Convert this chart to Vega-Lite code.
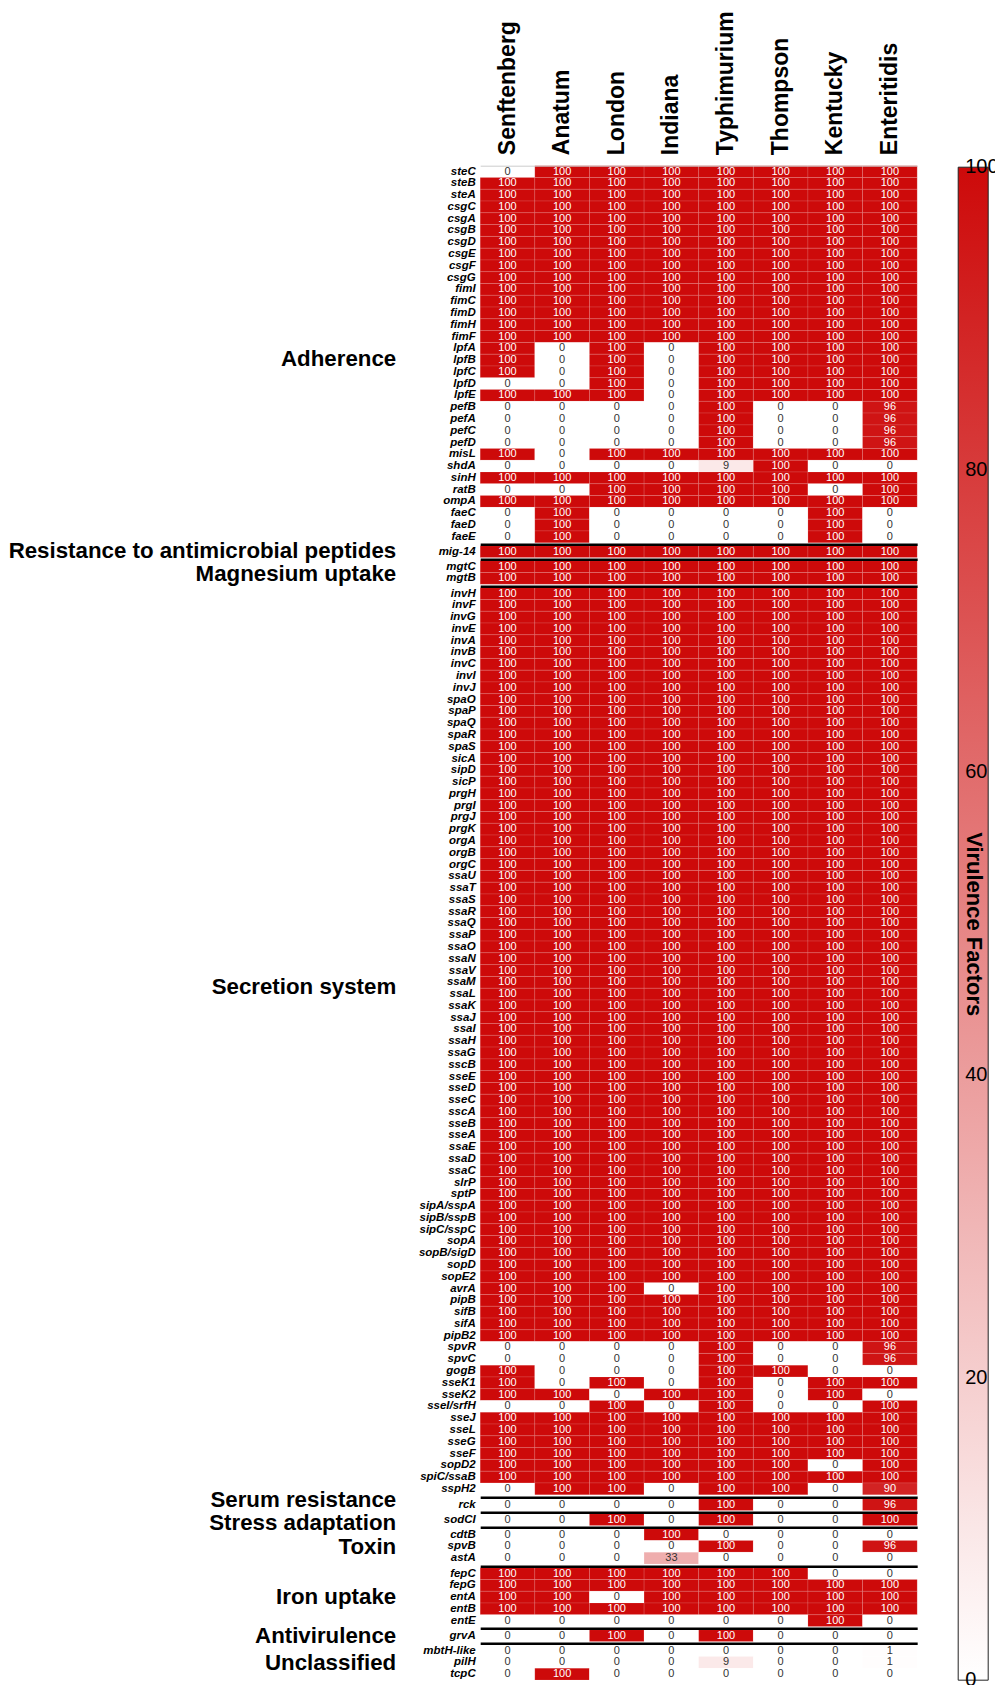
{"$schema":"https://vega.github.io/schema/vega-lite/v6.json","padding":{"left":7.2,"top":10.7,"right":0,"bottom":0},"bounds":"flush","spacing":3.0,
"vconcat":[
{"data":{"name":"Adherence"},"width":437,"height":377,"encoding":{"x":{"field":"strain","type":"nominal","sort":["Senftenberg","Anatum","London","Indiana","Typhimurium","Thompson","Kentucky","Enteritidis"],"scale":{"paddingInner":0,"paddingOuter":0},"axis":{"orient":"top","title":null,"ticks":false,"domain":true,"domainColor":"#cccccc","domainWidth":1,"labelAngle":270,"labelAlign":"left","labelBaseline":"middle","labelFontSize":23,"labelFontWeight":"bold","labelColor":"#000","labelPadding":11,"labelFont":"Liberation Sans"}},"y":{"field":"gene","type":"nominal","sort":null,"scale":{"paddingInner":0,"paddingOuter":0},"axis":{"title":"Adherence","titleY":193}}},
"layer":[{"mark":{"type":"rect","stroke":"#ffffff","strokeOpacity":0.15,"strokeWidth":0.8},"encoding":{"color":{"field":"value","type":"quantitative","scale":{"domain":[0,100],"range":["#ffffff","#cd0a0a"],"interpolate":"rgb"},"legend":{"title":"Virulence Factors","orient":"none","legendX":478,"legendY":1.5,"direction":"vertical","gradientLength":1513,"gradientThickness":30,"values":[0,20,40,60,80,100],"labelOffset":-23,"labelBaseline":"middle","labelFontSize":20,"labelColor":"#000","labelFont":"Liberation Sans","titleOrient":"right","titleAngle":90,"titleFontSize":22,"titleFontWeight":"bold","titleColor":"#000","titleFont":"Liberation Sans","titleAnchor":"middle","titleBaseline":"middle","titleAlign":"center","titlePadding":-24,"titleLimit":600,"gradientStrokeColor":"#222","gradientStrokeWidth":1,"encode":{"labels":{"update":{"baseline":{"value":"middle"}}}}}}}},{"mark":{"type":"text","fontSize":11,"font":"Liberation Sans"},"encoding":{"text":{"field":"value","type":"quantitative"},"color":{"condition":{"test":"datum.value > 50","value":"#ffffff"},"value":"#333333"}}}]},
{"data":{"name":"Resistance"},"width":437,"height":11.78,"encoding":{"x":{"field":"strain","type":"nominal","sort":["Senftenberg","Anatum","London","Indiana","Typhimurium","Thompson","Kentucky","Enteritidis"],"scale":{"paddingInner":0,"paddingOuter":0},"axis":{"orient":"top","title":null,"labels":false,"ticks":false,"domain":true,"domainColor":"#000","domainWidth":2.5,"offset":1.5}},"y":{"field":"gene","type":"nominal","sort":null,"scale":{"paddingInner":0,"paddingOuter":0},"axis":{"title":"Resistance to antimicrobial peptides","titleY":4.5}}},
"layer":[{"mark":{"type":"rect","stroke":"#ffffff","strokeOpacity":0.15,"strokeWidth":0.8},"encoding":{"color":{"field":"value","type":"quantitative","scale":{"domain":[0,100],"range":["#ffffff","#cd0a0a"],"interpolate":"rgb"},"legend":{"title":"Virulence Factors","orient":"none","legendX":478,"legendY":1.5,"direction":"vertical","gradientLength":1513,"gradientThickness":30,"values":[0,20,40,60,80,100],"labelOffset":-23,"labelBaseline":"middle","labelFontSize":20,"labelColor":"#000","labelFont":"Liberation Sans","titleOrient":"right","titleAngle":90,"titleFontSize":22,"titleFontWeight":"bold","titleColor":"#000","titleFont":"Liberation Sans","titleAnchor":"middle","titleBaseline":"middle","titleAlign":"center","titlePadding":-24,"titleLimit":600,"gradientStrokeColor":"#222","gradientStrokeWidth":1,"encode":{"labels":{"update":{"baseline":{"value":"middle"}}}}}}}},{"mark":{"type":"text","fontSize":11,"font":"Liberation Sans"},"encoding":{"text":{"field":"value","type":"quantitative"},"color":{"condition":{"test":"datum.value > 50","value":"#ffffff"},"value":"#333333"}}}]},
{"data":{"name":"Magnesium"},"width":437,"height":23.56,"encoding":{"x":{"field":"strain","type":"nominal","sort":["Senftenberg","Anatum","London","Indiana","Typhimurium","Thompson","Kentucky","Enteritidis"],"scale":{"paddingInner":0,"paddingOuter":0},"axis":{"orient":"top","title":null,"labels":false,"ticks":false,"domain":true,"domainColor":"#000","domainWidth":2.5,"offset":1.5}},"y":{"field":"gene","type":"nominal","sort":null,"scale":{"paddingInner":0,"paddingOuter":0},"axis":{"title":"Magnesium uptake","titleY":13}}},
"layer":[{"mark":{"type":"rect","stroke":"#ffffff","strokeOpacity":0.15,"strokeWidth":0.8},"encoding":{"color":{"field":"value","type":"quantitative","scale":{"domain":[0,100],"range":["#ffffff","#cd0a0a"],"interpolate":"rgb"},"legend":{"title":"Virulence Factors","orient":"none","legendX":478,"legendY":1.5,"direction":"vertical","gradientLength":1513,"gradientThickness":30,"values":[0,20,40,60,80,100],"labelOffset":-23,"labelBaseline":"middle","labelFontSize":20,"labelColor":"#000","labelFont":"Liberation Sans","titleOrient":"right","titleAngle":90,"titleFontSize":22,"titleFontWeight":"bold","titleColor":"#000","titleFont":"Liberation Sans","titleAnchor":"middle","titleBaseline":"middle","titleAlign":"center","titlePadding":-24,"titleLimit":600,"gradientStrokeColor":"#222","gradientStrokeWidth":1,"encode":{"labels":{"update":{"baseline":{"value":"middle"}}}}}}}},{"mark":{"type":"text","fontSize":11,"font":"Liberation Sans"},"encoding":{"text":{"field":"value","type":"quantitative"},"color":{"condition":{"test":"datum.value > 50","value":"#ffffff"},"value":"#333333"}}}]},
{"data":{"name":"Secretion"},"width":437,"height":907.06,"encoding":{"x":{"field":"strain","type":"nominal","sort":["Senftenberg","Anatum","London","Indiana","Typhimurium","Thompson","Kentucky","Enteritidis"],"scale":{"paddingInner":0,"paddingOuter":0},"axis":{"orient":"top","title":null,"labels":false,"ticks":false,"domain":true,"domainColor":"#000","domainWidth":2.5,"offset":1.5}},"y":{"field":"gene","type":"nominal","sort":null,"scale":{"paddingInner":0,"paddingOuter":0},"axis":{"title":"Secretion system","titleY":399}}},
"layer":[{"mark":{"type":"rect","stroke":"#ffffff","strokeOpacity":0.15,"strokeWidth":0.8},"encoding":{"color":{"field":"value","type":"quantitative","scale":{"domain":[0,100],"range":["#ffffff","#cd0a0a"],"interpolate":"rgb"},"legend":{"title":"Virulence Factors","orient":"none","legendX":478,"legendY":1.5,"direction":"vertical","gradientLength":1513,"gradientThickness":30,"values":[0,20,40,60,80,100],"labelOffset":-23,"labelBaseline":"middle","labelFontSize":20,"labelColor":"#000","labelFont":"Liberation Sans","titleOrient":"right","titleAngle":90,"titleFontSize":22,"titleFontWeight":"bold","titleColor":"#000","titleFont":"Liberation Sans","titleAnchor":"middle","titleBaseline":"middle","titleAlign":"center","titlePadding":-24,"titleLimit":600,"gradientStrokeColor":"#222","gradientStrokeWidth":1,"encode":{"labels":{"update":{"baseline":{"value":"middle"}}}}}}}},{"mark":{"type":"text","fontSize":11,"font":"Liberation Sans"},"encoding":{"text":{"field":"value","type":"quantitative"},"color":{"condition":{"test":"datum.value > 50","value":"#ffffff"},"value":"#333333"}}}]},
{"data":{"name":"Serum"},"width":437,"height":11.78,"encoding":{"x":{"field":"strain","type":"nominal","sort":["Senftenberg","Anatum","London","Indiana","Typhimurium","Thompson","Kentucky","Enteritidis"],"scale":{"paddingInner":0,"paddingOuter":0},"axis":{"orient":"top","title":null,"labels":false,"ticks":false,"domain":true,"domainColor":"#000","domainWidth":2.5,"offset":1.5}},"y":{"field":"gene","type":"nominal","sort":null,"scale":{"paddingInner":0,"paddingOuter":0},"axis":{"title":"Serum resistance","titleY":0.5}}},
"layer":[{"mark":{"type":"rect","stroke":"#ffffff","strokeOpacity":0.15,"strokeWidth":0.8},"encoding":{"color":{"field":"value","type":"quantitative","scale":{"domain":[0,100],"range":["#ffffff","#cd0a0a"],"interpolate":"rgb"},"legend":{"title":"Virulence Factors","orient":"none","legendX":478,"legendY":1.5,"direction":"vertical","gradientLength":1513,"gradientThickness":30,"values":[0,20,40,60,80,100],"labelOffset":-23,"labelBaseline":"middle","labelFontSize":20,"labelColor":"#000","labelFont":"Liberation Sans","titleOrient":"right","titleAngle":90,"titleFontSize":22,"titleFontWeight":"bold","titleColor":"#000","titleFont":"Liberation Sans","titleAnchor":"middle","titleBaseline":"middle","titleAlign":"center","titlePadding":-24,"titleLimit":600,"gradientStrokeColor":"#222","gradientStrokeWidth":1,"encode":{"labels":{"update":{"baseline":{"value":"middle"}}}}}}}},{"mark":{"type":"text","fontSize":11,"font":"Liberation Sans"},"encoding":{"text":{"field":"value","type":"quantitative"},"color":{"condition":{"test":"datum.value > 50","value":"#ffffff"},"value":"#333333"}}}]},
{"data":{"name":"Stress"},"width":437,"height":11.78,"encoding":{"x":{"field":"strain","type":"nominal","sort":["Senftenberg","Anatum","London","Indiana","Typhimurium","Thompson","Kentucky","Enteritidis"],"scale":{"paddingInner":0,"paddingOuter":0},"axis":{"orient":"top","title":null,"labels":false,"ticks":false,"domain":true,"domainColor":"#000","domainWidth":2.5,"offset":1.5}},"y":{"field":"gene","type":"nominal","sort":null,"scale":{"paddingInner":0,"paddingOuter":0},"axis":{"title":"Stress adaptation","titleY":9}}},
"layer":[{"mark":{"type":"rect","stroke":"#ffffff","strokeOpacity":0.15,"strokeWidth":0.8},"encoding":{"color":{"field":"value","type":"quantitative","scale":{"domain":[0,100],"range":["#ffffff","#cd0a0a"],"interpolate":"rgb"},"legend":{"title":"Virulence Factors","orient":"none","legendX":478,"legendY":1.5,"direction":"vertical","gradientLength":1513,"gradientThickness":30,"values":[0,20,40,60,80,100],"labelOffset":-23,"labelBaseline":"middle","labelFontSize":20,"labelColor":"#000","labelFont":"Liberation Sans","titleOrient":"right","titleAngle":90,"titleFontSize":22,"titleFontWeight":"bold","titleColor":"#000","titleFont":"Liberation Sans","titleAnchor":"middle","titleBaseline":"middle","titleAlign":"center","titlePadding":-24,"titleLimit":600,"gradientStrokeColor":"#222","gradientStrokeWidth":1,"encode":{"labels":{"update":{"baseline":{"value":"middle"}}}}}}}},{"mark":{"type":"text","fontSize":11,"font":"Liberation Sans"},"encoding":{"text":{"field":"value","type":"quantitative"},"color":{"condition":{"test":"datum.value > 50","value":"#ffffff"},"value":"#333333"}}}]},
{"data":{"name":"Toxin"},"width":437,"height":35.34,"encoding":{"x":{"field":"strain","type":"nominal","sort":["Senftenberg","Anatum","London","Indiana","Typhimurium","Thompson","Kentucky","Enteritidis"],"scale":{"paddingInner":0,"paddingOuter":0},"axis":{"orient":"top","title":null,"labels":false,"ticks":false,"domain":true,"domainColor":"#000","domainWidth":2.5,"offset":1.5}},"y":{"field":"gene","type":"nominal","sort":null,"scale":{"paddingInner":0,"paddingOuter":0},"axis":{"title":"Toxin","titleY":17.7}}},
"layer":[{"mark":{"type":"rect","stroke":"#ffffff","strokeOpacity":0.15,"strokeWidth":0.8},"encoding":{"color":{"field":"value","type":"quantitative","scale":{"domain":[0,100],"range":["#ffffff","#cd0a0a"],"interpolate":"rgb"},"legend":{"title":"Virulence Factors","orient":"none","legendX":478,"legendY":1.5,"direction":"vertical","gradientLength":1513,"gradientThickness":30,"values":[0,20,40,60,80,100],"labelOffset":-23,"labelBaseline":"middle","labelFontSize":20,"labelColor":"#000","labelFont":"Liberation Sans","titleOrient":"right","titleAngle":90,"titleFontSize":22,"titleFontWeight":"bold","titleColor":"#000","titleFont":"Liberation Sans","titleAnchor":"middle","titleBaseline":"middle","titleAlign":"center","titlePadding":-24,"titleLimit":600,"gradientStrokeColor":"#222","gradientStrokeWidth":1,"encode":{"labels":{"update":{"baseline":{"value":"middle"}}}}}}}},{"mark":{"type":"text","fontSize":11,"font":"Liberation Sans"},"encoding":{"text":{"field":"value","type":"quantitative"},"color":{"condition":{"test":"datum.value > 50","value":"#ffffff"},"value":"#333333"}}}]},
{"data":{"name":"Iron"},"width":437,"height":58.9,"encoding":{"x":{"field":"strain","type":"nominal","sort":["Senftenberg","Anatum","London","Indiana","Typhimurium","Thompson","Kentucky","Enteritidis"],"scale":{"paddingInner":0,"paddingOuter":0},"axis":{"orient":"top","title":null,"labels":false,"ticks":false,"domain":true,"domainColor":"#000","domainWidth":2.5,"offset":1.5}},"y":{"field":"gene","type":"nominal","sort":null,"scale":{"paddingInner":0,"paddingOuter":0},"axis":{"title":"Iron uptake","titleY":29}}},
"layer":[{"mark":{"type":"rect","stroke":"#ffffff","strokeOpacity":0.15,"strokeWidth":0.8},"encoding":{"color":{"field":"value","type":"quantitative","scale":{"domain":[0,100],"range":["#ffffff","#cd0a0a"],"interpolate":"rgb"},"legend":{"title":"Virulence Factors","orient":"none","legendX":478,"legendY":1.5,"direction":"vertical","gradientLength":1513,"gradientThickness":30,"values":[0,20,40,60,80,100],"labelOffset":-23,"labelBaseline":"middle","labelFontSize":20,"labelColor":"#000","labelFont":"Liberation Sans","titleOrient":"right","titleAngle":90,"titleFontSize":22,"titleFontWeight":"bold","titleColor":"#000","titleFont":"Liberation Sans","titleAnchor":"middle","titleBaseline":"middle","titleAlign":"center","titlePadding":-24,"titleLimit":600,"gradientStrokeColor":"#222","gradientStrokeWidth":1,"encode":{"labels":{"update":{"baseline":{"value":"middle"}}}}}}}},{"mark":{"type":"text","fontSize":11,"font":"Liberation Sans"},"encoding":{"text":{"field":"value","type":"quantitative"},"color":{"condition":{"test":"datum.value > 50","value":"#ffffff"},"value":"#333333"}}}]},
{"data":{"name":"Antivirulence"},"width":437,"height":11.78,"encoding":{"x":{"field":"strain","type":"nominal","sort":["Senftenberg","Anatum","London","Indiana","Typhimurium","Thompson","Kentucky","Enteritidis"],"scale":{"paddingInner":0,"paddingOuter":0},"axis":{"orient":"top","title":null,"labels":false,"ticks":false,"domain":true,"domainColor":"#000","domainWidth":2.5,"offset":1.5}},"y":{"field":"gene","type":"nominal","sort":null,"scale":{"paddingInner":0,"paddingOuter":0},"axis":{"title":"Antivirulence","titleY":5.8}}},
"layer":[{"mark":{"type":"rect","stroke":"#ffffff","strokeOpacity":0.15,"strokeWidth":0.8},"encoding":{"color":{"field":"value","type":"quantitative","scale":{"domain":[0,100],"range":["#ffffff","#cd0a0a"],"interpolate":"rgb"},"legend":{"title":"Virulence Factors","orient":"none","legendX":478,"legendY":1.5,"direction":"vertical","gradientLength":1513,"gradientThickness":30,"values":[0,20,40,60,80,100],"labelOffset":-23,"labelBaseline":"middle","labelFontSize":20,"labelColor":"#000","labelFont":"Liberation Sans","titleOrient":"right","titleAngle":90,"titleFontSize":22,"titleFontWeight":"bold","titleColor":"#000","titleFont":"Liberation Sans","titleAnchor":"middle","titleBaseline":"middle","titleAlign":"center","titlePadding":-24,"titleLimit":600,"gradientStrokeColor":"#222","gradientStrokeWidth":1,"encode":{"labels":{"update":{"baseline":{"value":"middle"}}}}}}}},{"mark":{"type":"text","fontSize":11,"font":"Liberation Sans"},"encoding":{"text":{"field":"value","type":"quantitative"},"color":{"condition":{"test":"datum.value > 50","value":"#ffffff"},"value":"#333333"}}}]},
{"data":{"name":"Unclassified"},"width":437,"height":35.34,"encoding":{"x":{"field":"strain","type":"nominal","sort":["Senftenberg","Anatum","London","Indiana","Typhimurium","Thompson","Kentucky","Enteritidis"],"scale":{"paddingInner":0,"paddingOuter":0},"axis":{"orient":"top","title":null,"labels":false,"ticks":false,"domain":true,"domainColor":"#000","domainWidth":2.5,"offset":1.5}},"y":{"field":"gene","type":"nominal","sort":null,"scale":{"paddingInner":0,"paddingOuter":0},"axis":{"title":"Unclassified","titleY":17.7}}},
"layer":[{"mark":{"type":"rect","stroke":"#ffffff","strokeOpacity":0.15,"strokeWidth":0.8},"encoding":{"color":{"field":"value","type":"quantitative","scale":{"domain":[0,100],"range":["#ffffff","#cd0a0a"],"interpolate":"rgb"},"legend":{"title":"Virulence Factors","orient":"none","legendX":478,"legendY":1.5,"direction":"vertical","gradientLength":1513,"gradientThickness":30,"values":[0,20,40,60,80,100],"labelOffset":-23,"labelBaseline":"middle","labelFontSize":20,"labelColor":"#000","labelFont":"Liberation Sans","titleOrient":"right","titleAngle":90,"titleFontSize":22,"titleFontWeight":"bold","titleColor":"#000","titleFont":"Liberation Sans","titleAnchor":"middle","titleBaseline":"middle","titleAlign":"center","titlePadding":-24,"titleLimit":600,"gradientStrokeColor":"#222","gradientStrokeWidth":1,"encode":{"labels":{"update":{"baseline":{"value":"middle"}}}}}}}},{"mark":{"type":"text","fontSize":11,"font":"Liberation Sans"},"encoding":{"text":{"field":"value","type":"quantitative"},"color":{"condition":{"test":"datum.value > 50","value":"#ffffff"},"value":"#333333"}}}]}
],
"datasets":{
"Adherence":[
{"gene":"steC","strain":"Senftenberg","value":0},{"gene":"steC","strain":"Anatum","value":100},{"gene":"steC","strain":"London","value":100},{"gene":"steC","strain":"Indiana","value":100},{"gene":"steC","strain":"Typhimurium","value":100},{"gene":"steC","strain":"Thompson","value":100},{"gene":"steC","strain":"Kentucky","value":100},{"gene":"steC","strain":"Enteritidis","value":100},
{"gene":"steB","strain":"Senftenberg","value":100},{"gene":"steB","strain":"Anatum","value":100},{"gene":"steB","strain":"London","value":100},{"gene":"steB","strain":"Indiana","value":100},{"gene":"steB","strain":"Typhimurium","value":100},{"gene":"steB","strain":"Thompson","value":100},{"gene":"steB","strain":"Kentucky","value":100},{"gene":"steB","strain":"Enteritidis","value":100},
{"gene":"steA","strain":"Senftenberg","value":100},{"gene":"steA","strain":"Anatum","value":100},{"gene":"steA","strain":"London","value":100},{"gene":"steA","strain":"Indiana","value":100},{"gene":"steA","strain":"Typhimurium","value":100},{"gene":"steA","strain":"Thompson","value":100},{"gene":"steA","strain":"Kentucky","value":100},{"gene":"steA","strain":"Enteritidis","value":100},
{"gene":"csgC","strain":"Senftenberg","value":100},{"gene":"csgC","strain":"Anatum","value":100},{"gene":"csgC","strain":"London","value":100},{"gene":"csgC","strain":"Indiana","value":100},{"gene":"csgC","strain":"Typhimurium","value":100},{"gene":"csgC","strain":"Thompson","value":100},{"gene":"csgC","strain":"Kentucky","value":100},{"gene":"csgC","strain":"Enteritidis","value":100},
{"gene":"csgA","strain":"Senftenberg","value":100},{"gene":"csgA","strain":"Anatum","value":100},{"gene":"csgA","strain":"London","value":100},{"gene":"csgA","strain":"Indiana","value":100},{"gene":"csgA","strain":"Typhimurium","value":100},{"gene":"csgA","strain":"Thompson","value":100},{"gene":"csgA","strain":"Kentucky","value":100},{"gene":"csgA","strain":"Enteritidis","value":100},
{"gene":"csgB","strain":"Senftenberg","value":100},{"gene":"csgB","strain":"Anatum","value":100},{"gene":"csgB","strain":"London","value":100},{"gene":"csgB","strain":"Indiana","value":100},{"gene":"csgB","strain":"Typhimurium","value":100},{"gene":"csgB","strain":"Thompson","value":100},{"gene":"csgB","strain":"Kentucky","value":100},{"gene":"csgB","strain":"Enteritidis","value":100},
{"gene":"csgD","strain":"Senftenberg","value":100},{"gene":"csgD","strain":"Anatum","value":100},{"gene":"csgD","strain":"London","value":100},{"gene":"csgD","strain":"Indiana","value":100},{"gene":"csgD","strain":"Typhimurium","value":100},{"gene":"csgD","strain":"Thompson","value":100},{"gene":"csgD","strain":"Kentucky","value":100},{"gene":"csgD","strain":"Enteritidis","value":100},
{"gene":"csgE","strain":"Senftenberg","value":100},{"gene":"csgE","strain":"Anatum","value":100},{"gene":"csgE","strain":"London","value":100},{"gene":"csgE","strain":"Indiana","value":100},{"gene":"csgE","strain":"Typhimurium","value":100},{"gene":"csgE","strain":"Thompson","value":100},{"gene":"csgE","strain":"Kentucky","value":100},{"gene":"csgE","strain":"Enteritidis","value":100},
{"gene":"csgF","strain":"Senftenberg","value":100},{"gene":"csgF","strain":"Anatum","value":100},{"gene":"csgF","strain":"London","value":100},{"gene":"csgF","strain":"Indiana","value":100},{"gene":"csgF","strain":"Typhimurium","value":100},{"gene":"csgF","strain":"Thompson","value":100},{"gene":"csgF","strain":"Kentucky","value":100},{"gene":"csgF","strain":"Enteritidis","value":100},
{"gene":"csgG","strain":"Senftenberg","value":100},{"gene":"csgG","strain":"Anatum","value":100},{"gene":"csgG","strain":"London","value":100},{"gene":"csgG","strain":"Indiana","value":100},{"gene":"csgG","strain":"Typhimurium","value":100},{"gene":"csgG","strain":"Thompson","value":100},{"gene":"csgG","strain":"Kentucky","value":100},{"gene":"csgG","strain":"Enteritidis","value":100},
{"gene":"fimI","strain":"Senftenberg","value":100},{"gene":"fimI","strain":"Anatum","value":100},{"gene":"fimI","strain":"London","value":100},{"gene":"fimI","strain":"Indiana","value":100},{"gene":"fimI","strain":"Typhimurium","value":100},{"gene":"fimI","strain":"Thompson","value":100},{"gene":"fimI","strain":"Kentucky","value":100},{"gene":"fimI","strain":"Enteritidis","value":100},
{"gene":"fimC","strain":"Senftenberg","value":100},{"gene":"fimC","strain":"Anatum","value":100},{"gene":"fimC","strain":"London","value":100},{"gene":"fimC","strain":"Indiana","value":100},{"gene":"fimC","strain":"Typhimurium","value":100},{"gene":"fimC","strain":"Thompson","value":100},{"gene":"fimC","strain":"Kentucky","value":100},{"gene":"fimC","strain":"Enteritidis","value":100},
{"gene":"fimD","strain":"Senftenberg","value":100},{"gene":"fimD","strain":"Anatum","value":100},{"gene":"fimD","strain":"London","value":100},{"gene":"fimD","strain":"Indiana","value":100},{"gene":"fimD","strain":"Typhimurium","value":100},{"gene":"fimD","strain":"Thompson","value":100},{"gene":"fimD","strain":"Kentucky","value":100},{"gene":"fimD","strain":"Enteritidis","value":100},
{"gene":"fimH","strain":"Senftenberg","value":100},{"gene":"fimH","strain":"Anatum","value":100},{"gene":"fimH","strain":"London","value":100},{"gene":"fimH","strain":"Indiana","value":100},{"gene":"fimH","strain":"Typhimurium","value":100},{"gene":"fimH","strain":"Thompson","value":100},{"gene":"fimH","strain":"Kentucky","value":100},{"gene":"fimH","strain":"Enteritidis","value":100},
{"gene":"fimF","strain":"Senftenberg","value":100},{"gene":"fimF","strain":"Anatum","value":100},{"gene":"fimF","strain":"London","value":100},{"gene":"fimF","strain":"Indiana","value":100},{"gene":"fimF","strain":"Typhimurium","value":100},{"gene":"fimF","strain":"Thompson","value":100},{"gene":"fimF","strain":"Kentucky","value":100},{"gene":"fimF","strain":"Enteritidis","value":100},
{"gene":"lpfA","strain":"Senftenberg","value":100},{"gene":"lpfA","strain":"Anatum","value":0},{"gene":"lpfA","strain":"London","value":100},{"gene":"lpfA","strain":"Indiana","value":0},{"gene":"lpfA","strain":"Typhimurium","value":100},{"gene":"lpfA","strain":"Thompson","value":100},{"gene":"lpfA","strain":"Kentucky","value":100},{"gene":"lpfA","strain":"Enteritidis","value":100},
{"gene":"lpfB","strain":"Senftenberg","value":100},{"gene":"lpfB","strain":"Anatum","value":0},{"gene":"lpfB","strain":"London","value":100},{"gene":"lpfB","strain":"Indiana","value":0},{"gene":"lpfB","strain":"Typhimurium","value":100},{"gene":"lpfB","strain":"Thompson","value":100},{"gene":"lpfB","strain":"Kentucky","value":100},{"gene":"lpfB","strain":"Enteritidis","value":100},
{"gene":"lpfC","strain":"Senftenberg","value":100},{"gene":"lpfC","strain":"Anatum","value":0},{"gene":"lpfC","strain":"London","value":100},{"gene":"lpfC","strain":"Indiana","value":0},{"gene":"lpfC","strain":"Typhimurium","value":100},{"gene":"lpfC","strain":"Thompson","value":100},{"gene":"lpfC","strain":"Kentucky","value":100},{"gene":"lpfC","strain":"Enteritidis","value":100},
{"gene":"lpfD","strain":"Senftenberg","value":0},{"gene":"lpfD","strain":"Anatum","value":0},{"gene":"lpfD","strain":"London","value":100},{"gene":"lpfD","strain":"Indiana","value":0},{"gene":"lpfD","strain":"Typhimurium","value":100},{"gene":"lpfD","strain":"Thompson","value":100},{"gene":"lpfD","strain":"Kentucky","value":100},{"gene":"lpfD","strain":"Enteritidis","value":100},
{"gene":"lpfE","strain":"Senftenberg","value":100},{"gene":"lpfE","strain":"Anatum","value":100},{"gene":"lpfE","strain":"London","value":100},{"gene":"lpfE","strain":"Indiana","value":0},{"gene":"lpfE","strain":"Typhimurium","value":100},{"gene":"lpfE","strain":"Thompson","value":100},{"gene":"lpfE","strain":"Kentucky","value":100},{"gene":"lpfE","strain":"Enteritidis","value":100},
{"gene":"pefB","strain":"Senftenberg","value":0},{"gene":"pefB","strain":"Anatum","value":0},{"gene":"pefB","strain":"London","value":0},{"gene":"pefB","strain":"Indiana","value":0},{"gene":"pefB","strain":"Typhimurium","value":100},{"gene":"pefB","strain":"Thompson","value":0},{"gene":"pefB","strain":"Kentucky","value":0},{"gene":"pefB","strain":"Enteritidis","value":96},
{"gene":"pefA","strain":"Senftenberg","value":0},{"gene":"pefA","strain":"Anatum","value":0},{"gene":"pefA","strain":"London","value":0},{"gene":"pefA","strain":"Indiana","value":0},{"gene":"pefA","strain":"Typhimurium","value":100},{"gene":"pefA","strain":"Thompson","value":0},{"gene":"pefA","strain":"Kentucky","value":0},{"gene":"pefA","strain":"Enteritidis","value":96},
{"gene":"pefC","strain":"Senftenberg","value":0},{"gene":"pefC","strain":"Anatum","value":0},{"gene":"pefC","strain":"London","value":0},{"gene":"pefC","strain":"Indiana","value":0},{"gene":"pefC","strain":"Typhimurium","value":100},{"gene":"pefC","strain":"Thompson","value":0},{"gene":"pefC","strain":"Kentucky","value":0},{"gene":"pefC","strain":"Enteritidis","value":96},
{"gene":"pefD","strain":"Senftenberg","value":0},{"gene":"pefD","strain":"Anatum","value":0},{"gene":"pefD","strain":"London","value":0},{"gene":"pefD","strain":"Indiana","value":0},{"gene":"pefD","strain":"Typhimurium","value":100},{"gene":"pefD","strain":"Thompson","value":0},{"gene":"pefD","strain":"Kentucky","value":0},{"gene":"pefD","strain":"Enteritidis","value":96},
{"gene":"misL","strain":"Senftenberg","value":100},{"gene":"misL","strain":"Anatum","value":0},{"gene":"misL","strain":"London","value":100},{"gene":"misL","strain":"Indiana","value":100},{"gene":"misL","strain":"Typhimurium","value":100},{"gene":"misL","strain":"Thompson","value":100},{"gene":"misL","strain":"Kentucky","value":100},{"gene":"misL","strain":"Enteritidis","value":100},
{"gene":"shdA","strain":"Senftenberg","value":0},{"gene":"shdA","strain":"Anatum","value":0},{"gene":"shdA","strain":"London","value":0},{"gene":"shdA","strain":"Indiana","value":0},{"gene":"shdA","strain":"Typhimurium","value":9},{"gene":"shdA","strain":"Thompson","value":100},{"gene":"shdA","strain":"Kentucky","value":0},{"gene":"shdA","strain":"Enteritidis","value":0},
{"gene":"sinH","strain":"Senftenberg","value":100},{"gene":"sinH","strain":"Anatum","value":100},{"gene":"sinH","strain":"London","value":100},{"gene":"sinH","strain":"Indiana","value":100},{"gene":"sinH","strain":"Typhimurium","value":100},{"gene":"sinH","strain":"Thompson","value":100},{"gene":"sinH","strain":"Kentucky","value":100},{"gene":"sinH","strain":"Enteritidis","value":100},
{"gene":"ratB","strain":"Senftenberg","value":0},{"gene":"ratB","strain":"Anatum","value":0},{"gene":"ratB","strain":"London","value":100},{"gene":"ratB","strain":"Indiana","value":100},{"gene":"ratB","strain":"Typhimurium","value":100},{"gene":"ratB","strain":"Thompson","value":100},{"gene":"ratB","strain":"Kentucky","value":0},{"gene":"ratB","strain":"Enteritidis","value":100},
{"gene":"ompA","strain":"Senftenberg","value":100},{"gene":"ompA","strain":"Anatum","value":100},{"gene":"ompA","strain":"London","value":100},{"gene":"ompA","strain":"Indiana","value":100},{"gene":"ompA","strain":"Typhimurium","value":100},{"gene":"ompA","strain":"Thompson","value":100},{"gene":"ompA","strain":"Kentucky","value":100},{"gene":"ompA","strain":"Enteritidis","value":100},
{"gene":"faeC","strain":"Senftenberg","value":0},{"gene":"faeC","strain":"Anatum","value":100},{"gene":"faeC","strain":"London","value":0},{"gene":"faeC","strain":"Indiana","value":0},{"gene":"faeC","strain":"Typhimurium","value":0},{"gene":"faeC","strain":"Thompson","value":0},{"gene":"faeC","strain":"Kentucky","value":100},{"gene":"faeC","strain":"Enteritidis","value":0},
{"gene":"faeD","strain":"Senftenberg","value":0},{"gene":"faeD","strain":"Anatum","value":100},{"gene":"faeD","strain":"London","value":0},{"gene":"faeD","strain":"Indiana","value":0},{"gene":"faeD","strain":"Typhimurium","value":0},{"gene":"faeD","strain":"Thompson","value":0},{"gene":"faeD","strain":"Kentucky","value":100},{"gene":"faeD","strain":"Enteritidis","value":0},
{"gene":"faeE","strain":"Senftenberg","value":0},{"gene":"faeE","strain":"Anatum","value":100},{"gene":"faeE","strain":"London","value":0},{"gene":"faeE","strain":"Indiana","value":0},{"gene":"faeE","strain":"Typhimurium","value":0},{"gene":"faeE","strain":"Thompson","value":0},{"gene":"faeE","strain":"Kentucky","value":100},{"gene":"faeE","strain":"Enteritidis","value":0}
],
"Resistance":[
{"gene":"mig-14","strain":"Senftenberg","value":100},{"gene":"mig-14","strain":"Anatum","value":100},{"gene":"mig-14","strain":"London","value":100},{"gene":"mig-14","strain":"Indiana","value":100},{"gene":"mig-14","strain":"Typhimurium","value":100},{"gene":"mig-14","strain":"Thompson","value":100},{"gene":"mig-14","strain":"Kentucky","value":100},{"gene":"mig-14","strain":"Enteritidis","value":100}
],
"Magnesium":[
{"gene":"mgtC","strain":"Senftenberg","value":100},{"gene":"mgtC","strain":"Anatum","value":100},{"gene":"mgtC","strain":"London","value":100},{"gene":"mgtC","strain":"Indiana","value":100},{"gene":"mgtC","strain":"Typhimurium","value":100},{"gene":"mgtC","strain":"Thompson","value":100},{"gene":"mgtC","strain":"Kentucky","value":100},{"gene":"mgtC","strain":"Enteritidis","value":100},
{"gene":"mgtB","strain":"Senftenberg","value":100},{"gene":"mgtB","strain":"Anatum","value":100},{"gene":"mgtB","strain":"London","value":100},{"gene":"mgtB","strain":"Indiana","value":100},{"gene":"mgtB","strain":"Typhimurium","value":100},{"gene":"mgtB","strain":"Thompson","value":100},{"gene":"mgtB","strain":"Kentucky","value":100},{"gene":"mgtB","strain":"Enteritidis","value":100}
],
"Secretion":[
{"gene":"invH","strain":"Senftenberg","value":100},{"gene":"invH","strain":"Anatum","value":100},{"gene":"invH","strain":"London","value":100},{"gene":"invH","strain":"Indiana","value":100},{"gene":"invH","strain":"Typhimurium","value":100},{"gene":"invH","strain":"Thompson","value":100},{"gene":"invH","strain":"Kentucky","value":100},{"gene":"invH","strain":"Enteritidis","value":100},
{"gene":"invF","strain":"Senftenberg","value":100},{"gene":"invF","strain":"Anatum","value":100},{"gene":"invF","strain":"London","value":100},{"gene":"invF","strain":"Indiana","value":100},{"gene":"invF","strain":"Typhimurium","value":100},{"gene":"invF","strain":"Thompson","value":100},{"gene":"invF","strain":"Kentucky","value":100},{"gene":"invF","strain":"Enteritidis","value":100},
{"gene":"invG","strain":"Senftenberg","value":100},{"gene":"invG","strain":"Anatum","value":100},{"gene":"invG","strain":"London","value":100},{"gene":"invG","strain":"Indiana","value":100},{"gene":"invG","strain":"Typhimurium","value":100},{"gene":"invG","strain":"Thompson","value":100},{"gene":"invG","strain":"Kentucky","value":100},{"gene":"invG","strain":"Enteritidis","value":100},
{"gene":"invE","strain":"Senftenberg","value":100},{"gene":"invE","strain":"Anatum","value":100},{"gene":"invE","strain":"London","value":100},{"gene":"invE","strain":"Indiana","value":100},{"gene":"invE","strain":"Typhimurium","value":100},{"gene":"invE","strain":"Thompson","value":100},{"gene":"invE","strain":"Kentucky","value":100},{"gene":"invE","strain":"Enteritidis","value":100},
{"gene":"invA","strain":"Senftenberg","value":100},{"gene":"invA","strain":"Anatum","value":100},{"gene":"invA","strain":"London","value":100},{"gene":"invA","strain":"Indiana","value":100},{"gene":"invA","strain":"Typhimurium","value":100},{"gene":"invA","strain":"Thompson","value":100},{"gene":"invA","strain":"Kentucky","value":100},{"gene":"invA","strain":"Enteritidis","value":100},
{"gene":"invB","strain":"Senftenberg","value":100},{"gene":"invB","strain":"Anatum","value":100},{"gene":"invB","strain":"London","value":100},{"gene":"invB","strain":"Indiana","value":100},{"gene":"invB","strain":"Typhimurium","value":100},{"gene":"invB","strain":"Thompson","value":100},{"gene":"invB","strain":"Kentucky","value":100},{"gene":"invB","strain":"Enteritidis","value":100},
{"gene":"invC","strain":"Senftenberg","value":100},{"gene":"invC","strain":"Anatum","value":100},{"gene":"invC","strain":"London","value":100},{"gene":"invC","strain":"Indiana","value":100},{"gene":"invC","strain":"Typhimurium","value":100},{"gene":"invC","strain":"Thompson","value":100},{"gene":"invC","strain":"Kentucky","value":100},{"gene":"invC","strain":"Enteritidis","value":100},
{"gene":"invI","strain":"Senftenberg","value":100},{"gene":"invI","strain":"Anatum","value":100},{"gene":"invI","strain":"London","value":100},{"gene":"invI","strain":"Indiana","value":100},{"gene":"invI","strain":"Typhimurium","value":100},{"gene":"invI","strain":"Thompson","value":100},{"gene":"invI","strain":"Kentucky","value":100},{"gene":"invI","strain":"Enteritidis","value":100},
{"gene":"invJ","strain":"Senftenberg","value":100},{"gene":"invJ","strain":"Anatum","value":100},{"gene":"invJ","strain":"London","value":100},{"gene":"invJ","strain":"Indiana","value":100},{"gene":"invJ","strain":"Typhimurium","value":100},{"gene":"invJ","strain":"Thompson","value":100},{"gene":"invJ","strain":"Kentucky","value":100},{"gene":"invJ","strain":"Enteritidis","value":100},
{"gene":"spaO","strain":"Senftenberg","value":100},{"gene":"spaO","strain":"Anatum","value":100},{"gene":"spaO","strain":"London","value":100},{"gene":"spaO","strain":"Indiana","value":100},{"gene":"spaO","strain":"Typhimurium","value":100},{"gene":"spaO","strain":"Thompson","value":100},{"gene":"spaO","strain":"Kentucky","value":100},{"gene":"spaO","strain":"Enteritidis","value":100},
{"gene":"spaP","strain":"Senftenberg","value":100},{"gene":"spaP","strain":"Anatum","value":100},{"gene":"spaP","strain":"London","value":100},{"gene":"spaP","strain":"Indiana","value":100},{"gene":"spaP","strain":"Typhimurium","value":100},{"gene":"spaP","strain":"Thompson","value":100},{"gene":"spaP","strain":"Kentucky","value":100},{"gene":"spaP","strain":"Enteritidis","value":100},
{"gene":"spaQ","strain":"Senftenberg","value":100},{"gene":"spaQ","strain":"Anatum","value":100},{"gene":"spaQ","strain":"London","value":100},{"gene":"spaQ","strain":"Indiana","value":100},{"gene":"spaQ","strain":"Typhimurium","value":100},{"gene":"spaQ","strain":"Thompson","value":100},{"gene":"spaQ","strain":"Kentucky","value":100},{"gene":"spaQ","strain":"Enteritidis","value":100},
{"gene":"spaR","strain":"Senftenberg","value":100},{"gene":"spaR","strain":"Anatum","value":100},{"gene":"spaR","strain":"London","value":100},{"gene":"spaR","strain":"Indiana","value":100},{"gene":"spaR","strain":"Typhimurium","value":100},{"gene":"spaR","strain":"Thompson","value":100},{"gene":"spaR","strain":"Kentucky","value":100},{"gene":"spaR","strain":"Enteritidis","value":100},
{"gene":"spaS","strain":"Senftenberg","value":100},{"gene":"spaS","strain":"Anatum","value":100},{"gene":"spaS","strain":"London","value":100},{"gene":"spaS","strain":"Indiana","value":100},{"gene":"spaS","strain":"Typhimurium","value":100},{"gene":"spaS","strain":"Thompson","value":100},{"gene":"spaS","strain":"Kentucky","value":100},{"gene":"spaS","strain":"Enteritidis","value":100},
{"gene":"sicA","strain":"Senftenberg","value":100},{"gene":"sicA","strain":"Anatum","value":100},{"gene":"sicA","strain":"London","value":100},{"gene":"sicA","strain":"Indiana","value":100},{"gene":"sicA","strain":"Typhimurium","value":100},{"gene":"sicA","strain":"Thompson","value":100},{"gene":"sicA","strain":"Kentucky","value":100},{"gene":"sicA","strain":"Enteritidis","value":100},
{"gene":"sipD","strain":"Senftenberg","value":100},{"gene":"sipD","strain":"Anatum","value":100},{"gene":"sipD","strain":"London","value":100},{"gene":"sipD","strain":"Indiana","value":100},{"gene":"sipD","strain":"Typhimurium","value":100},{"gene":"sipD","strain":"Thompson","value":100},{"gene":"sipD","strain":"Kentucky","value":100},{"gene":"sipD","strain":"Enteritidis","value":100},
{"gene":"sicP","strain":"Senftenberg","value":100},{"gene":"sicP","strain":"Anatum","value":100},{"gene":"sicP","strain":"London","value":100},{"gene":"sicP","strain":"Indiana","value":100},{"gene":"sicP","strain":"Typhimurium","value":100},{"gene":"sicP","strain":"Thompson","value":100},{"gene":"sicP","strain":"Kentucky","value":100},{"gene":"sicP","strain":"Enteritidis","value":100},
{"gene":"prgH","strain":"Senftenberg","value":100},{"gene":"prgH","strain":"Anatum","value":100},{"gene":"prgH","strain":"London","value":100},{"gene":"prgH","strain":"Indiana","value":100},{"gene":"prgH","strain":"Typhimurium","value":100},{"gene":"prgH","strain":"Thompson","value":100},{"gene":"prgH","strain":"Kentucky","value":100},{"gene":"prgH","strain":"Enteritidis","value":100},
{"gene":"prgI","strain":"Senftenberg","value":100},{"gene":"prgI","strain":"Anatum","value":100},{"gene":"prgI","strain":"London","value":100},{"gene":"prgI","strain":"Indiana","value":100},{"gene":"prgI","strain":"Typhimurium","value":100},{"gene":"prgI","strain":"Thompson","value":100},{"gene":"prgI","strain":"Kentucky","value":100},{"gene":"prgI","strain":"Enteritidis","value":100},
{"gene":"prgJ","strain":"Senftenberg","value":100},{"gene":"prgJ","strain":"Anatum","value":100},{"gene":"prgJ","strain":"London","value":100},{"gene":"prgJ","strain":"Indiana","value":100},{"gene":"prgJ","strain":"Typhimurium","value":100},{"gene":"prgJ","strain":"Thompson","value":100},{"gene":"prgJ","strain":"Kentucky","value":100},{"gene":"prgJ","strain":"Enteritidis","value":100},
{"gene":"prgK","strain":"Senftenberg","value":100},{"gene":"prgK","strain":"Anatum","value":100},{"gene":"prgK","strain":"London","value":100},{"gene":"prgK","strain":"Indiana","value":100},{"gene":"prgK","strain":"Typhimurium","value":100},{"gene":"prgK","strain":"Thompson","value":100},{"gene":"prgK","strain":"Kentucky","value":100},{"gene":"prgK","strain":"Enteritidis","value":100},
{"gene":"orgA","strain":"Senftenberg","value":100},{"gene":"orgA","strain":"Anatum","value":100},{"gene":"orgA","strain":"London","value":100},{"gene":"orgA","strain":"Indiana","value":100},{"gene":"orgA","strain":"Typhimurium","value":100},{"gene":"orgA","strain":"Thompson","value":100},{"gene":"orgA","strain":"Kentucky","value":100},{"gene":"orgA","strain":"Enteritidis","value":100},
{"gene":"orgB","strain":"Senftenberg","value":100},{"gene":"orgB","strain":"Anatum","value":100},{"gene":"orgB","strain":"London","value":100},{"gene":"orgB","strain":"Indiana","value":100},{"gene":"orgB","strain":"Typhimurium","value":100},{"gene":"orgB","strain":"Thompson","value":100},{"gene":"orgB","strain":"Kentucky","value":100},{"gene":"orgB","strain":"Enteritidis","value":100},
{"gene":"orgC","strain":"Senftenberg","value":100},{"gene":"orgC","strain":"Anatum","value":100},{"gene":"orgC","strain":"London","value":100},{"gene":"orgC","strain":"Indiana","value":100},{"gene":"orgC","strain":"Typhimurium","value":100},{"gene":"orgC","strain":"Thompson","value":100},{"gene":"orgC","strain":"Kentucky","value":100},{"gene":"orgC","strain":"Enteritidis","value":100},
{"gene":"ssaU","strain":"Senftenberg","value":100},{"gene":"ssaU","strain":"Anatum","value":100},{"gene":"ssaU","strain":"London","value":100},{"gene":"ssaU","strain":"Indiana","value":100},{"gene":"ssaU","strain":"Typhimurium","value":100},{"gene":"ssaU","strain":"Thompson","value":100},{"gene":"ssaU","strain":"Kentucky","value":100},{"gene":"ssaU","strain":"Enteritidis","value":100},
{"gene":"ssaT","strain":"Senftenberg","value":100},{"gene":"ssaT","strain":"Anatum","value":100},{"gene":"ssaT","strain":"London","value":100},{"gene":"ssaT","strain":"Indiana","value":100},{"gene":"ssaT","strain":"Typhimurium","value":100},{"gene":"ssaT","strain":"Thompson","value":100},{"gene":"ssaT","strain":"Kentucky","value":100},{"gene":"ssaT","strain":"Enteritidis","value":100},
{"gene":"ssaS","strain":"Senftenberg","value":100},{"gene":"ssaS","strain":"Anatum","value":100},{"gene":"ssaS","strain":"London","value":100},{"gene":"ssaS","strain":"Indiana","value":100},{"gene":"ssaS","strain":"Typhimurium","value":100},{"gene":"ssaS","strain":"Thompson","value":100},{"gene":"ssaS","strain":"Kentucky","value":100},{"gene":"ssaS","strain":"Enteritidis","value":100},
{"gene":"ssaR","strain":"Senftenberg","value":100},{"gene":"ssaR","strain":"Anatum","value":100},{"gene":"ssaR","strain":"London","value":100},{"gene":"ssaR","strain":"Indiana","value":100},{"gene":"ssaR","strain":"Typhimurium","value":100},{"gene":"ssaR","strain":"Thompson","value":100},{"gene":"ssaR","strain":"Kentucky","value":100},{"gene":"ssaR","strain":"Enteritidis","value":100},
{"gene":"ssaQ","strain":"Senftenberg","value":100},{"gene":"ssaQ","strain":"Anatum","value":100},{"gene":"ssaQ","strain":"London","value":100},{"gene":"ssaQ","strain":"Indiana","value":100},{"gene":"ssaQ","strain":"Typhimurium","value":100},{"gene":"ssaQ","strain":"Thompson","value":100},{"gene":"ssaQ","strain":"Kentucky","value":100},{"gene":"ssaQ","strain":"Enteritidis","value":100},
{"gene":"ssaP","strain":"Senftenberg","value":100},{"gene":"ssaP","strain":"Anatum","value":100},{"gene":"ssaP","strain":"London","value":100},{"gene":"ssaP","strain":"Indiana","value":100},{"gene":"ssaP","strain":"Typhimurium","value":100},{"gene":"ssaP","strain":"Thompson","value":100},{"gene":"ssaP","strain":"Kentucky","value":100},{"gene":"ssaP","strain":"Enteritidis","value":100},
{"gene":"ssaO","strain":"Senftenberg","value":100},{"gene":"ssaO","strain":"Anatum","value":100},{"gene":"ssaO","strain":"London","value":100},{"gene":"ssaO","strain":"Indiana","value":100},{"gene":"ssaO","strain":"Typhimurium","value":100},{"gene":"ssaO","strain":"Thompson","value":100},{"gene":"ssaO","strain":"Kentucky","value":100},{"gene":"ssaO","strain":"Enteritidis","value":100},
{"gene":"ssaN","strain":"Senftenberg","value":100},{"gene":"ssaN","strain":"Anatum","value":100},{"gene":"ssaN","strain":"London","value":100},{"gene":"ssaN","strain":"Indiana","value":100},{"gene":"ssaN","strain":"Typhimurium","value":100},{"gene":"ssaN","strain":"Thompson","value":100},{"gene":"ssaN","strain":"Kentucky","value":100},{"gene":"ssaN","strain":"Enteritidis","value":100},
{"gene":"ssaV","strain":"Senftenberg","value":100},{"gene":"ssaV","strain":"Anatum","value":100},{"gene":"ssaV","strain":"London","value":100},{"gene":"ssaV","strain":"Indiana","value":100},{"gene":"ssaV","strain":"Typhimurium","value":100},{"gene":"ssaV","strain":"Thompson","value":100},{"gene":"ssaV","strain":"Kentucky","value":100},{"gene":"ssaV","strain":"Enteritidis","value":100},
{"gene":"ssaM","strain":"Senftenberg","value":100},{"gene":"ssaM","strain":"Anatum","value":100},{"gene":"ssaM","strain":"London","value":100},{"gene":"ssaM","strain":"Indiana","value":100},{"gene":"ssaM","strain":"Typhimurium","value":100},{"gene":"ssaM","strain":"Thompson","value":100},{"gene":"ssaM","strain":"Kentucky","value":100},{"gene":"ssaM","strain":"Enteritidis","value":100},
{"gene":"ssaL","strain":"Senftenberg","value":100},{"gene":"ssaL","strain":"Anatum","value":100},{"gene":"ssaL","strain":"London","value":100},{"gene":"ssaL","strain":"Indiana","value":100},{"gene":"ssaL","strain":"Typhimurium","value":100},{"gene":"ssaL","strain":"Thompson","value":100},{"gene":"ssaL","strain":"Kentucky","value":100},{"gene":"ssaL","strain":"Enteritidis","value":100},
{"gene":"ssaK","strain":"Senftenberg","value":100},{"gene":"ssaK","strain":"Anatum","value":100},{"gene":"ssaK","strain":"London","value":100},{"gene":"ssaK","strain":"Indiana","value":100},{"gene":"ssaK","strain":"Typhimurium","value":100},{"gene":"ssaK","strain":"Thompson","value":100},{"gene":"ssaK","strain":"Kentucky","value":100},{"gene":"ssaK","strain":"Enteritidis","value":100},
{"gene":"ssaJ","strain":"Senftenberg","value":100},{"gene":"ssaJ","strain":"Anatum","value":100},{"gene":"ssaJ","strain":"London","value":100},{"gene":"ssaJ","strain":"Indiana","value":100},{"gene":"ssaJ","strain":"Typhimurium","value":100},{"gene":"ssaJ","strain":"Thompson","value":100},{"gene":"ssaJ","strain":"Kentucky","value":100},{"gene":"ssaJ","strain":"Enteritidis","value":100},
{"gene":"ssaI","strain":"Senftenberg","value":100},{"gene":"ssaI","strain":"Anatum","value":100},{"gene":"ssaI","strain":"London","value":100},{"gene":"ssaI","strain":"Indiana","value":100},{"gene":"ssaI","strain":"Typhimurium","value":100},{"gene":"ssaI","strain":"Thompson","value":100},{"gene":"ssaI","strain":"Kentucky","value":100},{"gene":"ssaI","strain":"Enteritidis","value":100},
{"gene":"ssaH","strain":"Senftenberg","value":100},{"gene":"ssaH","strain":"Anatum","value":100},{"gene":"ssaH","strain":"London","value":100},{"gene":"ssaH","strain":"Indiana","value":100},{"gene":"ssaH","strain":"Typhimurium","value":100},{"gene":"ssaH","strain":"Thompson","value":100},{"gene":"ssaH","strain":"Kentucky","value":100},{"gene":"ssaH","strain":"Enteritidis","value":100},
{"gene":"ssaG","strain":"Senftenberg","value":100},{"gene":"ssaG","strain":"Anatum","value":100},{"gene":"ssaG","strain":"London","value":100},{"gene":"ssaG","strain":"Indiana","value":100},{"gene":"ssaG","strain":"Typhimurium","value":100},{"gene":"ssaG","strain":"Thompson","value":100},{"gene":"ssaG","strain":"Kentucky","value":100},{"gene":"ssaG","strain":"Enteritidis","value":100},
{"gene":"sscB","strain":"Senftenberg","value":100},{"gene":"sscB","strain":"Anatum","value":100},{"gene":"sscB","strain":"London","value":100},{"gene":"sscB","strain":"Indiana","value":100},{"gene":"sscB","strain":"Typhimurium","value":100},{"gene":"sscB","strain":"Thompson","value":100},{"gene":"sscB","strain":"Kentucky","value":100},{"gene":"sscB","strain":"Enteritidis","value":100},
{"gene":"sseE","strain":"Senftenberg","value":100},{"gene":"sseE","strain":"Anatum","value":100},{"gene":"sseE","strain":"London","value":100},{"gene":"sseE","strain":"Indiana","value":100},{"gene":"sseE","strain":"Typhimurium","value":100},{"gene":"sseE","strain":"Thompson","value":100},{"gene":"sseE","strain":"Kentucky","value":100},{"gene":"sseE","strain":"Enteritidis","value":100},
{"gene":"sseD","strain":"Senftenberg","value":100},{"gene":"sseD","strain":"Anatum","value":100},{"gene":"sseD","strain":"London","value":100},{"gene":"sseD","strain":"Indiana","value":100},{"gene":"sseD","strain":"Typhimurium","value":100},{"gene":"sseD","strain":"Thompson","value":100},{"gene":"sseD","strain":"Kentucky","value":100},{"gene":"sseD","strain":"Enteritidis","value":100},
{"gene":"sseC","strain":"Senftenberg","value":100},{"gene":"sseC","strain":"Anatum","value":100},{"gene":"sseC","strain":"London","value":100},{"gene":"sseC","strain":"Indiana","value":100},{"gene":"sseC","strain":"Typhimurium","value":100},{"gene":"sseC","strain":"Thompson","value":100},{"gene":"sseC","strain":"Kentucky","value":100},{"gene":"sseC","strain":"Enteritidis","value":100},
{"gene":"sscA","strain":"Senftenberg","value":100},{"gene":"sscA","strain":"Anatum","value":100},{"gene":"sscA","strain":"London","value":100},{"gene":"sscA","strain":"Indiana","value":100},{"gene":"sscA","strain":"Typhimurium","value":100},{"gene":"sscA","strain":"Thompson","value":100},{"gene":"sscA","strain":"Kentucky","value":100},{"gene":"sscA","strain":"Enteritidis","value":100},
{"gene":"sseB","strain":"Senftenberg","value":100},{"gene":"sseB","strain":"Anatum","value":100},{"gene":"sseB","strain":"London","value":100},{"gene":"sseB","strain":"Indiana","value":100},{"gene":"sseB","strain":"Typhimurium","value":100},{"gene":"sseB","strain":"Thompson","value":100},{"gene":"sseB","strain":"Kentucky","value":100},{"gene":"sseB","strain":"Enteritidis","value":100},
{"gene":"sseA","strain":"Senftenberg","value":100},{"gene":"sseA","strain":"Anatum","value":100},{"gene":"sseA","strain":"London","value":100},{"gene":"sseA","strain":"Indiana","value":100},{"gene":"sseA","strain":"Typhimurium","value":100},{"gene":"sseA","strain":"Thompson","value":100},{"gene":"sseA","strain":"Kentucky","value":100},{"gene":"sseA","strain":"Enteritidis","value":100},
{"gene":"ssaE","strain":"Senftenberg","value":100},{"gene":"ssaE","strain":"Anatum","value":100},{"gene":"ssaE","strain":"London","value":100},{"gene":"ssaE","strain":"Indiana","value":100},{"gene":"ssaE","strain":"Typhimurium","value":100},{"gene":"ssaE","strain":"Thompson","value":100},{"gene":"ssaE","strain":"Kentucky","value":100},{"gene":"ssaE","strain":"Enteritidis","value":100},
{"gene":"ssaD","strain":"Senftenberg","value":100},{"gene":"ssaD","strain":"Anatum","value":100},{"gene":"ssaD","strain":"London","value":100},{"gene":"ssaD","strain":"Indiana","value":100},{"gene":"ssaD","strain":"Typhimurium","value":100},{"gene":"ssaD","strain":"Thompson","value":100},{"gene":"ssaD","strain":"Kentucky","value":100},{"gene":"ssaD","strain":"Enteritidis","value":100},
{"gene":"ssaC","strain":"Senftenberg","value":100},{"gene":"ssaC","strain":"Anatum","value":100},{"gene":"ssaC","strain":"London","value":100},{"gene":"ssaC","strain":"Indiana","value":100},{"gene":"ssaC","strain":"Typhimurium","value":100},{"gene":"ssaC","strain":"Thompson","value":100},{"gene":"ssaC","strain":"Kentucky","value":100},{"gene":"ssaC","strain":"Enteritidis","value":100},
{"gene":"slrP","strain":"Senftenberg","value":100},{"gene":"slrP","strain":"Anatum","value":100},{"gene":"slrP","strain":"London","value":100},{"gene":"slrP","strain":"Indiana","value":100},{"gene":"slrP","strain":"Typhimurium","value":100},{"gene":"slrP","strain":"Thompson","value":100},{"gene":"slrP","strain":"Kentucky","value":100},{"gene":"slrP","strain":"Enteritidis","value":100},
{"gene":"sptP","strain":"Senftenberg","value":100},{"gene":"sptP","strain":"Anatum","value":100},{"gene":"sptP","strain":"London","value":100},{"gene":"sptP","strain":"Indiana","value":100},{"gene":"sptP","strain":"Typhimurium","value":100},{"gene":"sptP","strain":"Thompson","value":100},{"gene":"sptP","strain":"Kentucky","value":100},{"gene":"sptP","strain":"Enteritidis","value":100},
{"gene":"sipA/sspA","strain":"Senftenberg","value":100},{"gene":"sipA/sspA","strain":"Anatum","value":100},{"gene":"sipA/sspA","strain":"London","value":100},{"gene":"sipA/sspA","strain":"Indiana","value":100},{"gene":"sipA/sspA","strain":"Typhimurium","value":100},{"gene":"sipA/sspA","strain":"Thompson","value":100},{"gene":"sipA/sspA","strain":"Kentucky","value":100},{"gene":"sipA/sspA","strain":"Enteritidis","value":100},
{"gene":"sipB/sspB","strain":"Senftenberg","value":100},{"gene":"sipB/sspB","strain":"Anatum","value":100},{"gene":"sipB/sspB","strain":"London","value":100},{"gene":"sipB/sspB","strain":"Indiana","value":100},{"gene":"sipB/sspB","strain":"Typhimurium","value":100},{"gene":"sipB/sspB","strain":"Thompson","value":100},{"gene":"sipB/sspB","strain":"Kentucky","value":100},{"gene":"sipB/sspB","strain":"Enteritidis","value":100},
{"gene":"sipC/sspC","strain":"Senftenberg","value":100},{"gene":"sipC/sspC","strain":"Anatum","value":100},{"gene":"sipC/sspC","strain":"London","value":100},{"gene":"sipC/sspC","strain":"Indiana","value":100},{"gene":"sipC/sspC","strain":"Typhimurium","value":100},{"gene":"sipC/sspC","strain":"Thompson","value":100},{"gene":"sipC/sspC","strain":"Kentucky","value":100},{"gene":"sipC/sspC","strain":"Enteritidis","value":100},
{"gene":"sopA","strain":"Senftenberg","value":100},{"gene":"sopA","strain":"Anatum","value":100},{"gene":"sopA","strain":"London","value":100},{"gene":"sopA","strain":"Indiana","value":100},{"gene":"sopA","strain":"Typhimurium","value":100},{"gene":"sopA","strain":"Thompson","value":100},{"gene":"sopA","strain":"Kentucky","value":100},{"gene":"sopA","strain":"Enteritidis","value":100},
{"gene":"sopB/sigD","strain":"Senftenberg","value":100},{"gene":"sopB/sigD","strain":"Anatum","value":100},{"gene":"sopB/sigD","strain":"London","value":100},{"gene":"sopB/sigD","strain":"Indiana","value":100},{"gene":"sopB/sigD","strain":"Typhimurium","value":100},{"gene":"sopB/sigD","strain":"Thompson","value":100},{"gene":"sopB/sigD","strain":"Kentucky","value":100},{"gene":"sopB/sigD","strain":"Enteritidis","value":100},
{"gene":"sopD","strain":"Senftenberg","value":100},{"gene":"sopD","strain":"Anatum","value":100},{"gene":"sopD","strain":"London","value":100},{"gene":"sopD","strain":"Indiana","value":100},{"gene":"sopD","strain":"Typhimurium","value":100},{"gene":"sopD","strain":"Thompson","value":100},{"gene":"sopD","strain":"Kentucky","value":100},{"gene":"sopD","strain":"Enteritidis","value":100},
{"gene":"sopE2","strain":"Senftenberg","value":100},{"gene":"sopE2","strain":"Anatum","value":100},{"gene":"sopE2","strain":"London","value":100},{"gene":"sopE2","strain":"Indiana","value":100},{"gene":"sopE2","strain":"Typhimurium","value":100},{"gene":"sopE2","strain":"Thompson","value":100},{"gene":"sopE2","strain":"Kentucky","value":100},{"gene":"sopE2","strain":"Enteritidis","value":100},
{"gene":"avrA","strain":"Senftenberg","value":100},{"gene":"avrA","strain":"Anatum","value":100},{"gene":"avrA","strain":"London","value":100},{"gene":"avrA","strain":"Indiana","value":0},{"gene":"avrA","strain":"Typhimurium","value":100},{"gene":"avrA","strain":"Thompson","value":100},{"gene":"avrA","strain":"Kentucky","value":100},{"gene":"avrA","strain":"Enteritidis","value":100},
{"gene":"pipB","strain":"Senftenberg","value":100},{"gene":"pipB","strain":"Anatum","value":100},{"gene":"pipB","strain":"London","value":100},{"gene":"pipB","strain":"Indiana","value":100},{"gene":"pipB","strain":"Typhimurium","value":100},{"gene":"pipB","strain":"Thompson","value":100},{"gene":"pipB","strain":"Kentucky","value":100},{"gene":"pipB","strain":"Enteritidis","value":100},
{"gene":"sifB","strain":"Senftenberg","value":100},{"gene":"sifB","strain":"Anatum","value":100},{"gene":"sifB","strain":"London","value":100},{"gene":"sifB","strain":"Indiana","value":100},{"gene":"sifB","strain":"Typhimurium","value":100},{"gene":"sifB","strain":"Thompson","value":100},{"gene":"sifB","strain":"Kentucky","value":100},{"gene":"sifB","strain":"Enteritidis","value":100},
{"gene":"sifA","strain":"Senftenberg","value":100},{"gene":"sifA","strain":"Anatum","value":100},{"gene":"sifA","strain":"London","value":100},{"gene":"sifA","strain":"Indiana","value":100},{"gene":"sifA","strain":"Typhimurium","value":100},{"gene":"sifA","strain":"Thompson","value":100},{"gene":"sifA","strain":"Kentucky","value":100},{"gene":"sifA","strain":"Enteritidis","value":100},
{"gene":"pipB2","strain":"Senftenberg","value":100},{"gene":"pipB2","strain":"Anatum","value":100},{"gene":"pipB2","strain":"London","value":100},{"gene":"pipB2","strain":"Indiana","value":100},{"gene":"pipB2","strain":"Typhimurium","value":100},{"gene":"pipB2","strain":"Thompson","value":100},{"gene":"pipB2","strain":"Kentucky","value":100},{"gene":"pipB2","strain":"Enteritidis","value":100},
{"gene":"spvR","strain":"Senftenberg","value":0},{"gene":"spvR","strain":"Anatum","value":0},{"gene":"spvR","strain":"London","value":0},{"gene":"spvR","strain":"Indiana","value":0},{"gene":"spvR","strain":"Typhimurium","value":100},{"gene":"spvR","strain":"Thompson","value":0},{"gene":"spvR","strain":"Kentucky","value":0},{"gene":"spvR","strain":"Enteritidis","value":96},
{"gene":"spvC","strain":"Senftenberg","value":0},{"gene":"spvC","strain":"Anatum","value":0},{"gene":"spvC","strain":"London","value":0},{"gene":"spvC","strain":"Indiana","value":0},{"gene":"spvC","strain":"Typhimurium","value":100},{"gene":"spvC","strain":"Thompson","value":0},{"gene":"spvC","strain":"Kentucky","value":0},{"gene":"spvC","strain":"Enteritidis","value":96},
{"gene":"gogB","strain":"Senftenberg","value":100},{"gene":"gogB","strain":"Anatum","value":0},{"gene":"gogB","strain":"London","value":0},{"gene":"gogB","strain":"Indiana","value":0},{"gene":"gogB","strain":"Typhimurium","value":100},{"gene":"gogB","strain":"Thompson","value":100},{"gene":"gogB","strain":"Kentucky","value":0},{"gene":"gogB","strain":"Enteritidis","value":0},
{"gene":"sseK1","strain":"Senftenberg","value":100},{"gene":"sseK1","strain":"Anatum","value":0},{"gene":"sseK1","strain":"London","value":100},{"gene":"sseK1","strain":"Indiana","value":0},{"gene":"sseK1","strain":"Typhimurium","value":100},{"gene":"sseK1","strain":"Thompson","value":0},{"gene":"sseK1","strain":"Kentucky","value":100},{"gene":"sseK1","strain":"Enteritidis","value":100},
{"gene":"sseK2","strain":"Senftenberg","value":100},{"gene":"sseK2","strain":"Anatum","value":100},{"gene":"sseK2","strain":"London","value":0},{"gene":"sseK2","strain":"Indiana","value":100},{"gene":"sseK2","strain":"Typhimurium","value":100},{"gene":"sseK2","strain":"Thompson","value":0},{"gene":"sseK2","strain":"Kentucky","value":100},{"gene":"sseK2","strain":"Enteritidis","value":0},
{"gene":"sseI/srfH","strain":"Senftenberg","value":0},{"gene":"sseI/srfH","strain":"Anatum","value":0},{"gene":"sseI/srfH","strain":"London","value":100},{"gene":"sseI/srfH","strain":"Indiana","value":0},{"gene":"sseI/srfH","strain":"Typhimurium","value":100},{"gene":"sseI/srfH","strain":"Thompson","value":0},{"gene":"sseI/srfH","strain":"Kentucky","value":0},{"gene":"sseI/srfH","strain":"Enteritidis","value":100},
{"gene":"sseJ","strain":"Senftenberg","value":100},{"gene":"sseJ","strain":"Anatum","value":100},{"gene":"sseJ","strain":"London","value":100},{"gene":"sseJ","strain":"Indiana","value":100},{"gene":"sseJ","strain":"Typhimurium","value":100},{"gene":"sseJ","strain":"Thompson","value":100},{"gene":"sseJ","strain":"Kentucky","value":100},{"gene":"sseJ","strain":"Enteritidis","value":100},
{"gene":"sseL","strain":"Senftenberg","value":100},{"gene":"sseL","strain":"Anatum","value":100},{"gene":"sseL","strain":"London","value":100},{"gene":"sseL","strain":"Indiana","value":100},{"gene":"sseL","strain":"Typhimurium","value":100},{"gene":"sseL","strain":"Thompson","value":100},{"gene":"sseL","strain":"Kentucky","value":100},{"gene":"sseL","strain":"Enteritidis","value":100},
{"gene":"sseG","strain":"Senftenberg","value":100},{"gene":"sseG","strain":"Anatum","value":100},{"gene":"sseG","strain":"London","value":100},{"gene":"sseG","strain":"Indiana","value":100},{"gene":"sseG","strain":"Typhimurium","value":100},{"gene":"sseG","strain":"Thompson","value":100},{"gene":"sseG","strain":"Kentucky","value":100},{"gene":"sseG","strain":"Enteritidis","value":100},
{"gene":"sseF","strain":"Senftenberg","value":100},{"gene":"sseF","strain":"Anatum","value":100},{"gene":"sseF","strain":"London","value":100},{"gene":"sseF","strain":"Indiana","value":100},{"gene":"sseF","strain":"Typhimurium","value":100},{"gene":"sseF","strain":"Thompson","value":100},{"gene":"sseF","strain":"Kentucky","value":100},{"gene":"sseF","strain":"Enteritidis","value":100},
{"gene":"sopD2","strain":"Senftenberg","value":100},{"gene":"sopD2","strain":"Anatum","value":100},{"gene":"sopD2","strain":"London","value":100},{"gene":"sopD2","strain":"Indiana","value":100},{"gene":"sopD2","strain":"Typhimurium","value":100},{"gene":"sopD2","strain":"Thompson","value":100},{"gene":"sopD2","strain":"Kentucky","value":0},{"gene":"sopD2","strain":"Enteritidis","value":100},
{"gene":"spiC/ssaB","strain":"Senftenberg","value":100},{"gene":"spiC/ssaB","strain":"Anatum","value":100},{"gene":"spiC/ssaB","strain":"London","value":100},{"gene":"spiC/ssaB","strain":"Indiana","value":100},{"gene":"spiC/ssaB","strain":"Typhimurium","value":100},{"gene":"spiC/ssaB","strain":"Thompson","value":100},{"gene":"spiC/ssaB","strain":"Kentucky","value":100},{"gene":"spiC/ssaB","strain":"Enteritidis","value":100},
{"gene":"sspH2","strain":"Senftenberg","value":0},{"gene":"sspH2","strain":"Anatum","value":100},{"gene":"sspH2","strain":"London","value":100},{"gene":"sspH2","strain":"Indiana","value":0},{"gene":"sspH2","strain":"Typhimurium","value":100},{"gene":"sspH2","strain":"Thompson","value":100},{"gene":"sspH2","strain":"Kentucky","value":0},{"gene":"sspH2","strain":"Enteritidis","value":90}
],
"Serum":[
{"gene":"rck","strain":"Senftenberg","value":0},{"gene":"rck","strain":"Anatum","value":0},{"gene":"rck","strain":"London","value":0},{"gene":"rck","strain":"Indiana","value":0},{"gene":"rck","strain":"Typhimurium","value":100},{"gene":"rck","strain":"Thompson","value":0},{"gene":"rck","strain":"Kentucky","value":0},{"gene":"rck","strain":"Enteritidis","value":96}
],
"Stress":[
{"gene":"sodCI","strain":"Senftenberg","value":0},{"gene":"sodCI","strain":"Anatum","value":0},{"gene":"sodCI","strain":"London","value":100},{"gene":"sodCI","strain":"Indiana","value":0},{"gene":"sodCI","strain":"Typhimurium","value":100},{"gene":"sodCI","strain":"Thompson","value":0},{"gene":"sodCI","strain":"Kentucky","value":0},{"gene":"sodCI","strain":"Enteritidis","value":100}
],
"Toxin":[
{"gene":"cdtB","strain":"Senftenberg","value":0},{"gene":"cdtB","strain":"Anatum","value":0},{"gene":"cdtB","strain":"London","value":0},{"gene":"cdtB","strain":"Indiana","value":100},{"gene":"cdtB","strain":"Typhimurium","value":0},{"gene":"cdtB","strain":"Thompson","value":0},{"gene":"cdtB","strain":"Kentucky","value":0},{"gene":"cdtB","strain":"Enteritidis","value":0},
{"gene":"spvB","strain":"Senftenberg","value":0},{"gene":"spvB","strain":"Anatum","value":0},{"gene":"spvB","strain":"London","value":0},{"gene":"spvB","strain":"Indiana","value":0},{"gene":"spvB","strain":"Typhimurium","value":100},{"gene":"spvB","strain":"Thompson","value":0},{"gene":"spvB","strain":"Kentucky","value":0},{"gene":"spvB","strain":"Enteritidis","value":96},
{"gene":"astA","strain":"Senftenberg","value":0},{"gene":"astA","strain":"Anatum","value":0},{"gene":"astA","strain":"London","value":0},{"gene":"astA","strain":"Indiana","value":33},{"gene":"astA","strain":"Typhimurium","value":0},{"gene":"astA","strain":"Thompson","value":0},{"gene":"astA","strain":"Kentucky","value":0},{"gene":"astA","strain":"Enteritidis","value":0}
],
"Iron":[
{"gene":"fepC","strain":"Senftenberg","value":100},{"gene":"fepC","strain":"Anatum","value":100},{"gene":"fepC","strain":"London","value":100},{"gene":"fepC","strain":"Indiana","value":100},{"gene":"fepC","strain":"Typhimurium","value":100},{"gene":"fepC","strain":"Thompson","value":100},{"gene":"fepC","strain":"Kentucky","value":0},{"gene":"fepC","strain":"Enteritidis","value":0},
{"gene":"fepG","strain":"Senftenberg","value":100},{"gene":"fepG","strain":"Anatum","value":100},{"gene":"fepG","strain":"London","value":100},{"gene":"fepG","strain":"Indiana","value":100},{"gene":"fepG","strain":"Typhimurium","value":100},{"gene":"fepG","strain":"Thompson","value":100},{"gene":"fepG","strain":"Kentucky","value":100},{"gene":"fepG","strain":"Enteritidis","value":100},
{"gene":"entA","strain":"Senftenberg","value":100},{"gene":"entA","strain":"Anatum","value":100},{"gene":"entA","strain":"London","value":0},{"gene":"entA","strain":"Indiana","value":100},{"gene":"entA","strain":"Typhimurium","value":100},{"gene":"entA","strain":"Thompson","value":100},{"gene":"entA","strain":"Kentucky","value":100},{"gene":"entA","strain":"Enteritidis","value":100},
{"gene":"entB","strain":"Senftenberg","value":100},{"gene":"entB","strain":"Anatum","value":100},{"gene":"entB","strain":"London","value":100},{"gene":"entB","strain":"Indiana","value":100},{"gene":"entB","strain":"Typhimurium","value":100},{"gene":"entB","strain":"Thompson","value":100},{"gene":"entB","strain":"Kentucky","value":100},{"gene":"entB","strain":"Enteritidis","value":100},
{"gene":"entE","strain":"Senftenberg","value":0},{"gene":"entE","strain":"Anatum","value":0},{"gene":"entE","strain":"London","value":0},{"gene":"entE","strain":"Indiana","value":0},{"gene":"entE","strain":"Typhimurium","value":0},{"gene":"entE","strain":"Thompson","value":0},{"gene":"entE","strain":"Kentucky","value":100},{"gene":"entE","strain":"Enteritidis","value":0}
],
"Antivirulence":[
{"gene":"grvA","strain":"Senftenberg","value":0},{"gene":"grvA","strain":"Anatum","value":0},{"gene":"grvA","strain":"London","value":100},{"gene":"grvA","strain":"Indiana","value":0},{"gene":"grvA","strain":"Typhimurium","value":100},{"gene":"grvA","strain":"Thompson","value":0},{"gene":"grvA","strain":"Kentucky","value":0},{"gene":"grvA","strain":"Enteritidis","value":0}
],
"Unclassified":[
{"gene":"mbtH-like","strain":"Senftenberg","value":0},{"gene":"mbtH-like","strain":"Anatum","value":0},{"gene":"mbtH-like","strain":"London","value":0},{"gene":"mbtH-like","strain":"Indiana","value":0},{"gene":"mbtH-like","strain":"Typhimurium","value":0},{"gene":"mbtH-like","strain":"Thompson","value":0},{"gene":"mbtH-like","strain":"Kentucky","value":0},{"gene":"mbtH-like","strain":"Enteritidis","value":1},
{"gene":"pilH","strain":"Senftenberg","value":0},{"gene":"pilH","strain":"Anatum","value":0},{"gene":"pilH","strain":"London","value":0},{"gene":"pilH","strain":"Indiana","value":0},{"gene":"pilH","strain":"Typhimurium","value":9},{"gene":"pilH","strain":"Thompson","value":0},{"gene":"pilH","strain":"Kentucky","value":0},{"gene":"pilH","strain":"Enteritidis","value":1},
{"gene":"tcpC","strain":"Senftenberg","value":0},{"gene":"tcpC","strain":"Anatum","value":100},{"gene":"tcpC","strain":"London","value":0},{"gene":"tcpC","strain":"Indiana","value":0},{"gene":"tcpC","strain":"Typhimurium","value":0},{"gene":"tcpC","strain":"Thompson","value":0},{"gene":"tcpC","strain":"Kentucky","value":0},{"gene":"tcpC","strain":"Enteritidis","value":0}
]
},
"config":{"font":"Liberation Sans","view":{"stroke":null},
"axisY":{"domain":false,"ticks":false,"labelFont":"Liberation Sans","labelFontSize":11.5,"labelFontStyle":"italic","labelFontWeight":"bold","labelColor":"#000","labelPadding":5,"labelOverlap":false,"titleAngle":0,"titleAlign":"right","titleBaseline":"middle","titleX":-84.5,"titleFontSize":22.3,"titleFontWeight":"bold","titleColor":"#000","titleFont":"Liberation Sans"}}
}
